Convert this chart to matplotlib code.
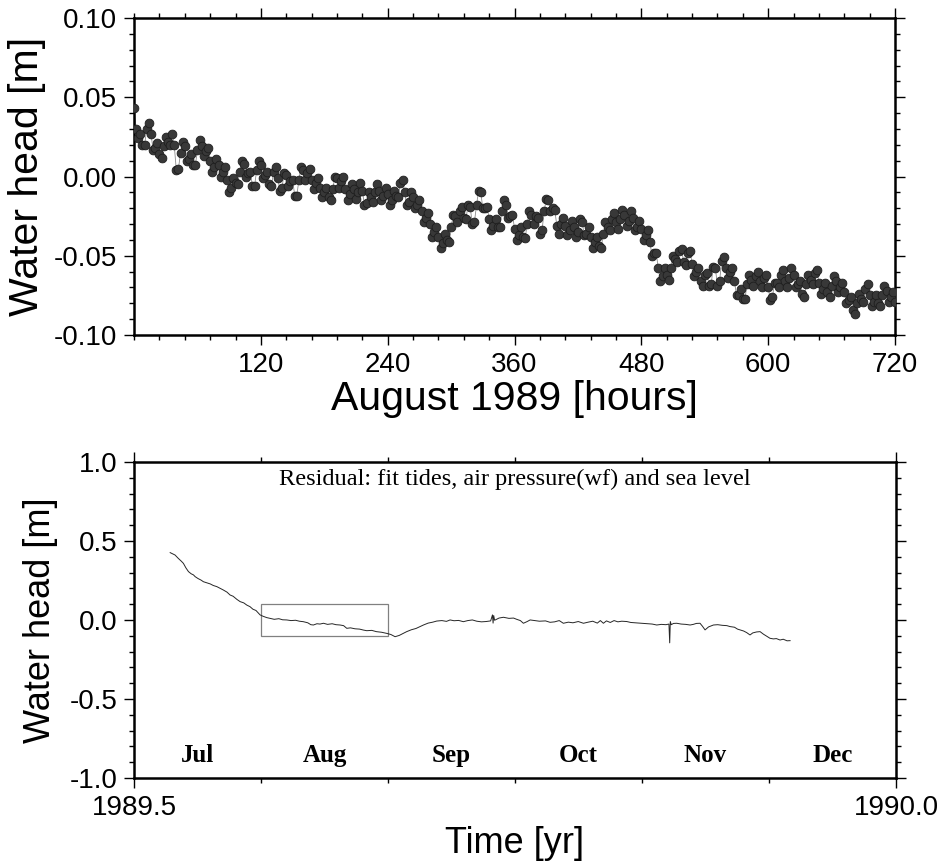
import matplotlib
matplotlib.use('Agg')
import matplotlib.pyplot as plt
from matplotlib.patches import Rectangle
from matplotlib.ticker import MultipleLocator, FormatStrFormatter
import numpy as np

plt.rcParams['font.family'] = ['Liberation Sans', 'DejaVu Sans']

# top panel: August 1989, water head every 2 hours [m]
aug_head = [
    0.043, 0.030, 0.024, 0.027, 0.020, 0.020, 0.030, 0.034, 0.027, 0.017,
    0.018, 0.021, 0.014, 0.012, 0.019, 0.025, 0.022, 0.020, 0.027, 0.020,
    0.004, 0.005, 0.015, 0.022, 0.019, 0.010, 0.011, 0.014, 0.007, 0.007,
    0.017, 0.023, 0.019, 0.013, 0.016, 0.018, 0.010, 0.003, 0.006, 0.011,
    0.007, 0.000, 0.003, 0.006, -0.002, -0.010, -0.007, -0.001, -0.004, -0.005,
    0.003, 0.010, 0.008, 0.000, 0.002, 0.003, -0.006, -0.006, 0.004, 0.010,
    0.007, -0.001, 0.001, 0.003, -0.005, -0.006, 0.003, 0.006, -0.001, -0.009,
    -0.007, 0.002, 0.001, -0.006, -0.003, -0.002, -0.012, -0.012, -0.002, 0.006,
    0.004, -0.002, 0.002, 0.005, -0.002, -0.008, -0.004, -0.001, -0.007, -0.013,
    -0.010, -0.007, -0.013, -0.015, -0.008, 0.000, -0.001, -0.007, -0.003, 0.000,
    -0.008, -0.015, -0.011, -0.005, -0.008, -0.014, -0.010, -0.004, -0.009, -0.018,
    -0.017, -0.010, -0.013, -0.016, -0.010, -0.005, -0.009, -0.015, -0.012, -0.007,
    -0.011, -0.018, -0.015, -0.009, -0.012, -0.013, -0.004, -0.002, -0.010, -0.018,
    -0.016, -0.010, -0.013, -0.020, -0.018, -0.015, -0.022, -0.029, -0.026, -0.023,
    -0.030, -0.038, -0.035, -0.032, -0.038, -0.045, -0.042, -0.036, -0.040, -0.041,
    -0.032, -0.024, -0.025, -0.029, -0.022, -0.019, -0.026, -0.027, -0.018, -0.019,
    -0.030, -0.029, -0.018, -0.009, -0.010, -0.020, -0.020, -0.019, -0.027, -0.034,
    -0.031, -0.027, -0.032, -0.032, -0.022, -0.015, -0.018, -0.026, -0.025, -0.024,
    -0.033, -0.040, -0.037, -0.032, -0.038, -0.039, -0.030, -0.022, -0.024, -0.030,
    -0.025, -0.026, -0.036, -0.034, -0.022, -0.014, -0.015, -0.022, -0.020, -0.021,
    -0.031, -0.036, -0.030, -0.026, -0.031, -0.037, -0.034, -0.028, -0.032, -0.038,
    -0.035, -0.027, -0.029, -0.037, -0.036, -0.032, -0.038, -0.045, -0.041, -0.038,
    -0.044, -0.045, -0.036, -0.029, -0.032, -0.034, -0.027, -0.023, -0.029, -0.033,
    -0.027, -0.021, -0.024, -0.031, -0.028, -0.022, -0.026, -0.034, -0.032, -0.028,
    -0.033, -0.040, -0.037, -0.034, -0.041, -0.050, -0.048, -0.048, -0.058, -0.066,
    -0.063, -0.058, -0.062, -0.065, -0.058, -0.050, -0.052, -0.054, -0.047, -0.046,
    -0.054, -0.056, -0.048, -0.047, -0.055, -0.063, -0.060, -0.058, -0.066, -0.069,
    -0.062, -0.061, -0.069, -0.068, -0.057, -0.058, -0.069, -0.066, -0.053, -0.051,
    -0.058, -0.064, -0.060, -0.058, -0.066, -0.075, -0.075, -0.071, -0.077, -0.077,
    -0.068, -0.062, -0.065, -0.069, -0.063, -0.060, -0.066, -0.070, -0.064, -0.062,
    -0.070, -0.078, -0.076, -0.067, -0.067, -0.070, -0.062, -0.059, -0.066, -0.070,
    -0.064, -0.058, -0.062, -0.070, -0.068, -0.066, -0.074, -0.076, -0.068, -0.062,
    -0.065, -0.068, -0.061, -0.059, -0.067, -0.074, -0.071, -0.067, -0.073, -0.076,
    -0.069, -0.063, -0.066, -0.073, -0.070, -0.067, -0.073, -0.080, -0.078, -0.076,
    -0.084, -0.087, -0.080, -0.074, -0.077, -0.079, -0.071, -0.068, -0.075, -0.082,
    -0.079, -0.075, -0.080, -0.082, -0.075, -0.069, -0.072, -0.079, -0.076, -0.073,
    -0.079,
]
aug_hours = np.linspace(0, 720, len(aug_head))

# bottom panel: residual, Jul-Dec 1989
res_year = [
    1989.5237, 1989.5250, 1989.5269, 1989.5290, 1989.5310, 1989.5324, 1989.5340, 1989.5357,
    1989.5375, 1989.5390, 1989.5401, 1989.5420, 1989.5440, 1989.5455, 1989.5475, 1989.5500,
    1989.5520, 1989.5543, 1989.5565, 1989.5585, 1989.5610, 1989.5630, 1989.5650, 1989.5675,
    1989.5696, 1989.5720, 1989.5740, 1989.5761, 1989.5780, 1989.5800, 1989.5815, 1989.5827,
    1989.5845, 1989.5870, 1989.5893, 1989.5920, 1989.5950, 1989.5975, 1989.6002, 1989.6030,
    1989.6060, 1989.6085, 1989.6111, 1989.6140, 1989.6160, 1989.6177, 1989.6200, 1989.6220,
    1989.6243, 1989.6270, 1989.6300, 1989.6325, 1989.6352, 1989.6375, 1989.6396, 1989.6420,
    1989.6450, 1989.6480, 1989.6505, 1989.6527, 1989.6560, 1989.6590, 1989.6625, 1989.6658,
    1989.6685, 1989.6713, 1989.6740, 1989.6765, 1989.6789, 1989.6820, 1989.6850, 1989.6875,
    1989.6899, 1989.6930, 1989.6960, 1989.6986, 1989.7020, 1989.7050, 1989.7074, 1989.7100,
    1989.7130, 1989.7161, 1989.7190, 1989.7220, 1989.7249, 1989.7280, 1989.7310, 1989.7340,
    1989.7352, 1989.7356, 1989.7360, 1989.7366, 1989.7395, 1989.7424, 1989.7460, 1989.7490,
    1989.7511, 1989.7535, 1989.7555, 1989.7580, 1989.7599, 1989.7630, 1989.7660, 1989.7700,
    1989.7730, 1989.7760, 1989.7790, 1989.7817, 1989.7850, 1989.7880, 1989.7915, 1989.7949,
    1989.7980, 1989.8010, 1989.8040, 1989.8060, 1989.8080, 1989.8100, 1989.8125, 1989.8150,
    1989.8175, 1989.8200, 1989.8233, 1989.8260, 1989.8290, 1989.8320, 1989.8342, 1989.8370,
    1989.8400, 1989.8430, 1989.8460, 1989.8490, 1989.8510, 1989.8515, 1989.8519, 1989.8525,
    1989.8540, 1989.8561, 1989.8590, 1989.8620, 1989.8649, 1989.8670, 1989.8690, 1989.8714,
    1989.8730, 1989.8747, 1989.8770, 1989.8802, 1989.8830, 1989.8860, 1989.8890, 1989.8911,
    1989.8940, 1989.8960, 1989.8977, 1989.9000, 1989.9020, 1989.9042, 1989.9060, 1989.9085,
    1989.9108, 1989.9130, 1989.9150, 1989.9173, 1989.9195, 1989.9215, 1989.9239, 1989.9260,
    1989.9285, 1989.9305,
]
res_head = [
    0.426, 0.420, 0.411, 0.390, 0.372, 0.358, 0.330, 0.306,
    0.292, 0.285, 0.274, 0.262, 0.252, 0.242, 0.236, 0.228,
    0.218, 0.211, 0.200, 0.190, 0.176, 0.158, 0.150, 0.130,
    0.116, 0.108, 0.094, 0.084, 0.068, 0.060, 0.045, 0.032,
    0.024, 0.015, 0.010, 0.004, 0.008, 0.001, 0.000, -0.004,
    -0.002, -0.008, -0.011, -0.018, -0.030, -0.032, -0.024, -0.026,
    -0.021, -0.028, -0.024, -0.030, -0.032, -0.036, -0.053, -0.050,
    -0.056, -0.058, -0.064, -0.068, -0.066, -0.074, -0.078, -0.085,
    -0.092, -0.106, -0.098, -0.086, -0.074, -0.062, -0.054, -0.043,
    -0.032, -0.020, -0.014, -0.007, -0.004, -0.009, 0.000, -0.005,
    -0.003, -0.011, -0.004, 0.000, -0.008, -0.012, -0.010, -0.006,
    0.032, -0.020, 0.028, -0.002, 0.012, 0.017, 0.010, 0.012,
    0.004, -0.004, -0.021, -0.010, 0.000, -0.004, -0.008, -0.006,
    -0.015, -0.012, -0.004, -0.021, -0.014, -0.018, -0.010, -0.021,
    -0.014, -0.008, -0.020, -0.004, -0.021, -0.006, -0.016, -0.004,
    -0.012, -0.008, -0.010, -0.016, -0.018, -0.020, -0.021, -0.024,
    -0.026, -0.032, -0.028, -0.030, -0.026, -0.145, -0.010, -0.030,
    -0.022, -0.021, -0.026, -0.028, -0.032, -0.028, -0.022, -0.021,
    -0.040, -0.063, -0.044, -0.032, -0.030, -0.034, -0.036, -0.042,
    -0.046, -0.058, -0.063, -0.070, -0.080, -0.095, -0.082, -0.076,
    -0.074, -0.090, -0.102, -0.116, -0.120, -0.118, -0.127, -0.122,
    -0.132, -0.131,
]

months = ['Jul', 'Aug', 'Sep', 'Oct', 'Nov', 'Dec']
year_start = 1989.5
zoom_month = 1  # August is shown in the top panel

fig = plt.figure(figsize=(9.4, 8.67), dpi=100)


def style_axes(ax):
    for s in ax.spines.values():
        s.set_linewidth(1.8)
    ax.tick_params(which='both', direction='out', top=True, right=True,
                   width=1.0, labelsize=20, pad=5)
    ax.tick_params(which='major', length=7)
    ax.tick_params(which='minor', length=3.5)


# ---- top panel
ax1 = fig.add_axes([0.1426, 0.6136, 0.8096, 0.3656])
ax1.plot(aug_hours, aug_head, '-', color='0.55', lw=0.6, zorder=2)
ax1.plot(aug_hours, aug_head, 'o', ms=6.3, mfc='#383838', mec='#1e1e1e',
         mew=0.6, zorder=3)
ax1.set_xlim(0, 720)
ax1.set_ylim(-0.10, 0.10)
ax1.set_xticks(range(120, 721, 120))
ax1.xaxis.set_minor_locator(MultipleLocator(24))
ax1.yaxis.set_major_locator(MultipleLocator(0.05))
ax1.yaxis.set_minor_locator(MultipleLocator(0.01))
ax1.yaxis.set_major_formatter(FormatStrFormatter('%.2f'))
style_axes(ax1)
ax1.set_xlabel('August 1989 [hours]', fontsize=29.5, labelpad=2)
ax1.set_ylabel('Water head [m]', fontsize=29.5, labelpad=6)

# ---- bottom panel
ax2 = fig.add_axes([0.1426, 0.1027, 0.8106, 0.3645])
ax2.plot(res_year, res_head, '-', color='0.15', lw=0.7)
ax2.add_patch(Rectangle((year_start + zoom_month / 12, -0.1), 1 / 12, 0.2,
                        fill=False, edgecolor='0.5', lw=0.9))
ax2.set_xlim(1989.5, 1990.0)
ax2.set_ylim(-1.0, 1.0)
ax2.set_xticks([1989.5, 1990.0])
ax2.set_xticks([year_start + i / 12 for i in range(1, 6)], minor=True)
ax2.xaxis.set_major_formatter(FormatStrFormatter('%.1f'))
ax2.yaxis.set_major_locator(MultipleLocator(0.5))
ax2.yaxis.set_minor_locator(MultipleLocator(0.1))
ax2.yaxis.set_major_formatter(FormatStrFormatter('%.1f'))
style_axes(ax2)
ax2.set_xlabel('Time [yr]', fontsize=26, labelpad=4)
ax2.set_ylabel('Water head [m]', fontsize=26, labelpad=8)

for i, m in enumerate(months):
    ax2.text(year_start + (i + 0.5) / 12, -0.86, m, ha='center', va='center',
             fontsize=18, fontweight='bold', family='Liberation Serif')
ax2.text(1989.75, 0.89, 'Residual: fit tides, air pressure(wf) and sea level',
         ha='center', va='center', fontsize=17.6, family='Liberation Serif')

fig.savefig('out.png', dpi=100)
